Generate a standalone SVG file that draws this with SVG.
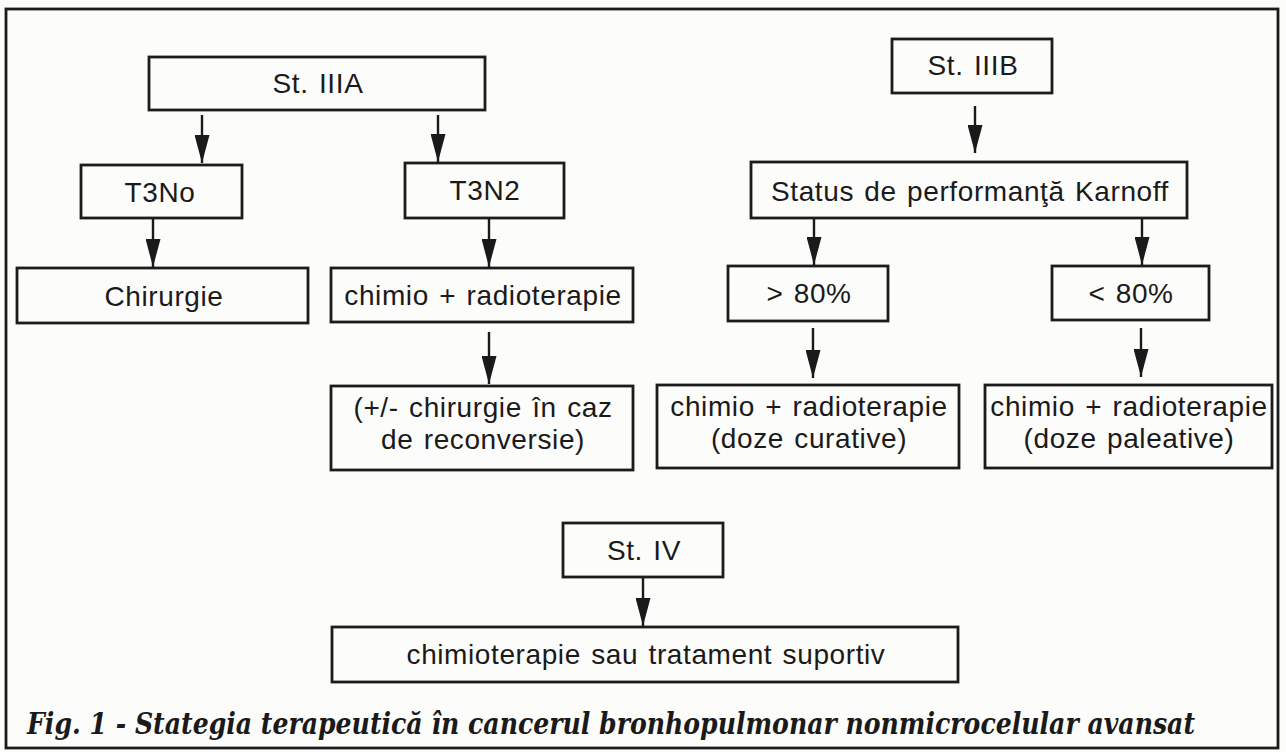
<svg xmlns="http://www.w3.org/2000/svg" width="1286" height="752" viewBox="0 0 1286 752">
<defs>
<marker id="ah" viewBox="0 0 28 15" refX="28" refY="7.5" markerWidth="28" markerHeight="15" markerUnits="userSpaceOnUse" orient="auto">
<path d="M0,0 L28,7.5 L0,15 Z" fill="#1a1a1a"/>
</marker>
<style>
.box{fill:none;stroke:#1c1c1c;stroke-width:2.8}
.t{font-family:"Liberation Sans",Arial,sans-serif;font-size:28px;letter-spacing:0.6px;word-spacing:2px;fill:#1a1a1a;text-anchor:middle}
.c line{stroke:#1a1a1a;stroke-width:2.4;marker-end:url(#ah)}
.cap{font-family:"DejaVu Serif","Liberation Serif",serif;font-size:29px;font-weight:bold;font-style:italic;font-stretch:condensed;fill:#1a1a1a}
</style>
</defs>
<rect x="0" y="0" width="1286" height="752" fill="#fcfcfa"/>
<rect x="6" y="9" width="1272" height="739" fill="none" stroke="#1c1c1c" stroke-width="2.8"/>

<g id="st3a"><rect class="box" x="149" y="57" width="336" height="53"/><text class="t" x="318" y="93">St. IIIA</text></g>
<g id="t3no"><rect class="box" x="81" y="165" width="161" height="53"/><text class="t" x="160" y="202">T3No</text></g>
<g id="t3n2"><rect class="box" x="405" y="163" width="159" height="55"/><text class="t" x="485" y="200">T3N2</text></g>
<g id="chirurgie"><rect class="box" x="17" y="268" width="291" height="55"/><text class="t" x="164" y="306">Chirurgie</text></g>
<g id="chimio1"><rect class="box" x="331" y="268" width="302" height="54"/><text class="t" x="483" y="305">chimio + radioterapie</text></g>
<g id="reconv"><rect class="box" x="331" y="386" width="302" height="84"/><text class="t" x="483" y="417">(+/- chirurgie în caz</text><text class="t" x="483" y="449">de reconversie)</text></g>
<g id="st3b"><rect class="box" x="892" y="39" width="160" height="54"/><text class="t" x="973" y="75">St. IIIB</text></g>
<g id="karnoff"><rect class="box" x="751" y="162" width="436" height="56"/><text class="t" x="970" y="201">Status de performanţă Karnoff</text></g>
<g id="gt80"><rect class="box" x="728" y="266" width="160" height="55"/><text class="t" x="809" y="303">&gt; 80%</text></g>
<g id="lt80"><rect class="box" x="1052" y="266" width="157" height="54"/><text class="t" x="1131" y="303">&lt; 80%</text></g>
<g id="curative"><rect class="box" x="657" y="385" width="302" height="83"/><text class="t" x="809" y="416">chimio + radioterapie</text><text class="t" x="809" y="448">(doze curative)</text></g>
<g id="paleative"><rect class="box" x="985" y="385" width="287" height="83"/><text class="t" x="1129" y="416">chimio + radioterapie</text><text class="t" x="1129" y="448">(doze paleative)</text></g>
<g id="st4"><rect class="box" x="563" y="523" width="160" height="54"/><text class="t" x="644" y="560">St. IV</text></g>
<g id="suportiv"><rect class="box" x="332" y="627" width="626" height="55"/><text class="t" x="646" y="664">chimioterapie sau tratament suportiv</text></g>

<g id="connectors" class="c">
<line x1="202" y1="115" x2="202" y2="163"/>
<line x1="438" y1="115" x2="438" y2="162"/>
<line x1="153" y1="219" x2="153" y2="267"/>
<line x1="489" y1="219" x2="489" y2="267"/>
<line x1="489" y1="332" x2="489" y2="384"/>
<line x1="975" y1="106" x2="975" y2="153"/>
<line x1="814" y1="218" x2="814" y2="265"/>
<line x1="1142" y1="218" x2="1142" y2="265"/>
<line x1="813" y1="328" x2="813" y2="378"/>
<line x1="1141" y1="328" x2="1141" y2="377"/>
<line x1="643" y1="577" x2="643" y2="626"/>
</g>

<text class="cap" x="27" y="734" textLength="1168" lengthAdjust="spacingAndGlyphs">Fig. 1 - Stategia terapeutică în cancerul bronhopulmonar nonmicrocelular avansat</text>
</svg>
